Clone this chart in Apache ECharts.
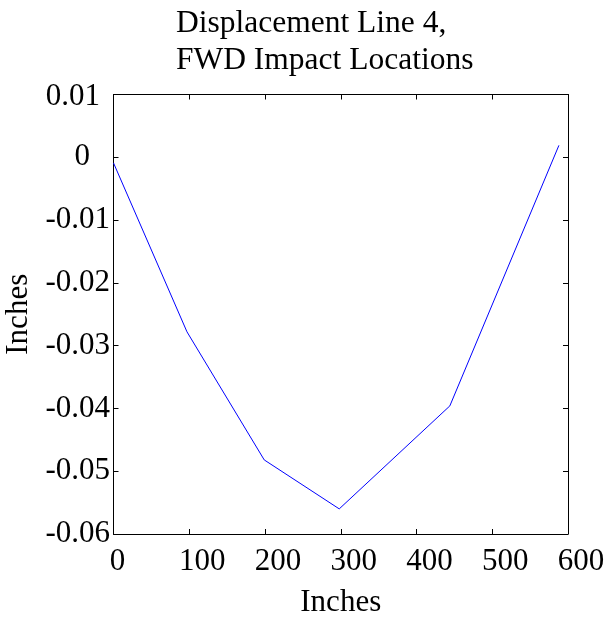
<!DOCTYPE html>
<html><head><meta charset="utf-8">
<script src="https://cdn.jsdelivr.net/npm/echarts@6/dist/echarts.min.js"></script>
<style>html,body{margin:0;padding:0;background:#fff}#c{width:616px;height:618px}</style>
</head><body><div id="c"></div>
<script>
var xValues = [0, 97, 199, 298, 444, 588];
var yValues = [-0.0009, -0.0278, -0.0482, -0.056, -0.0396, 0.0019];
var titleText = 'Displacement Line 4,\nFWD Impact Locations';
var xLabel = 'Inches';
var yLabel = 'Inches';

var FONT = '"Liberation Serif", "Times New Roman", serif';
var data = xValues.map(function(x, i){ return [x, yValues[i]]; });
var chart = echarts.init(document.getElementById('c'), null, {renderer:'canvas'});
function axisBase(extra){
  return Object.assign({
    axisLine:{show:true, onZero:false, lineStyle:{color:'#000', width:1}},
    axisTick:{show:true, inside:true, length:5, lineStyle:{color:'#000'}},
    splitLine:{show:false}
  }, extra);
}
var txt = {fontFamily:FONT, fontSize:31, color:'#000'};
chart.setOption({
  animation:false,
  backgroundColor:'#fff',
  title:{text:titleText, left:171, top:0, textAlign:'left',
    textStyle:{fontFamily:FONT, fontWeight:'normal', fontSize:31.5, color:'#000', lineHeight:37}},
  grid:{left:113.5, right:48, top:94.5, bottom:84, containLabel:false, outerBoundsMode:'none'},
  xAxis:[
    axisBase({type:'value', min:0, max:600, interval:100, position:'bottom',
      name:xLabel, nameLocation:'middle', nameGap:53,
      nameTextStyle:txt,
      axisLabel:Object.assign({margin:12,
        formatter:function(v){ return v === 0 ? '{s|' + v + '}' : '{l|' + v + '}'; },
        rich:{s:Object.assign({padding:[0,0,0,8]}, txt), l:Object.assign({padding:[0,0,0,26]}, txt)}
      }, txt)}),
    axisBase({type:'value', min:0, max:600, interval:100, position:'top',
      axisLabel:{show:false}})
  ],
  yAxis:[
    axisBase({type:'value', min:-0.06, max:0.01, interval:0.01, position:'left',
      name:yLabel, nameLocation:'middle', nameGap:74,
      nameTextStyle:txt,
      axisLabel:Object.assign({margin:3.5,
        formatter:function(v){
          var s = String(Math.round(v*100)/100);
          if (s === '0') return '{z|' + s + '}';
          if (s.charAt(0) !== '-') return '{p|' + s + '}';
          return '{n|' + s + '}';
        },
        rich:{z:Object.assign({padding:[0,20,0,0]}, txt), p:Object.assign({padding:[5,10,0,0]}, txt), n:Object.assign({padding:[0,0,0,0]}, txt)}
      }, txt)}),
    axisBase({type:'value', min:-0.06, max:0.01, interval:0.01, position:'right',
      axisLabel:{show:false}})
  ],
  series:[{type:'line', data:data, xAxisIndex:0, yAxisIndex:0, showSymbol:false,
    lineStyle:{color:'#0000ff', width:1}, itemStyle:{color:'#0000ff'}}]
});
</script></body></html>
